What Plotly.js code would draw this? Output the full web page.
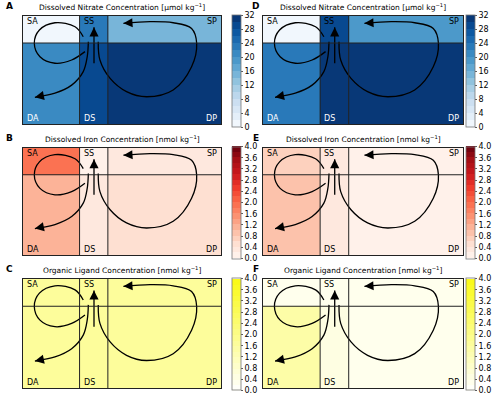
<!DOCTYPE html>
<html>
<head>
<meta charset="utf-8">
<script src="https://cdn.plot.ly/plotly-3.0.1.min.js"></script>
<style>html,body{margin:0;padding:0;background:#fff;}#chart{width:503px;height:398px;}</style>
</head>
<body>
<div id="chart"></div>
<script>
// ---- Box-model geometry (model units): columns A | S | P, rows Deep | Surface
const cellXEdges = [0, 2, 3, 7];
const cellYEdges = [0, 3, 4];
const surfaceLabels = ['SA', 'SS', 'SP'];
const deepLabels = ['DA', 'DS', 'DP'];
const panelLetters = ['A', 'B', 'C', 'D', 'E', 'F'];

// ---- Concentrations [deep row], [surface row] ordered A, S, P
const nitrateA_deep = [20, 29, 31];
const nitrateA_surf = [0.5, 22, 15];
const ironB_deep = [1.0, 0.3, 0.4];
const ironB_surf = [1.9, 0.15, 0.2];
const ligandC_deep = [1.7, 1.7, 1.7];
const ligandC_surf = [1.7, 1.7, 1.7];
const nitrateD_deep = [22, 30, 31];
const nitrateD_surf = [0.5, 28, 19];
const ironE_deep = [0.8, 0.3, 0.15];
const ironE_surf = [0.7, 0.2, 0.1];
const ligandF_deep = [1.4, 0.4, 0.2];
const ligandF_surf = [0.3, 0.3, 0.2];

// colourbar ticks
const nitrateTicks = [0, 4, 8, 12, 16, 20, 24, 28, 32];
const ironTicks = [0, 0.4, 0.8, 1.2, 1.6, 2.0, 2.4, 2.8, 3.2, 3.6, 4.0];

// ---- Circulation pathways (model units)
const loopSA_x = [2.13, 1.84, 1.13, 0.58, 0.40, 0.60, 1.13, 1.72, 2.19];
const loopSA_y = [3.23, 3.60, 3.75, 3.48, 2.99, 2.49, 2.25, 2.37, 2.68];
const toDA_x = [2.31, 2.27, 2.13, 1.72, 1.13, 0.42];
const toDA_y = [3.05, 2.49, 1.94, 1.44, 1.14, 0.99];
const upwell_x = [2.51, 2.51];
const upwell_y = [2.25, 3.58];
const loopP_x = [2.66, 2.72, 3.08, 3.66, 4.37, 5.31, 5.96, 6.14, 5.96, 5.31, 4.49, 3.55];
const loopP_y = [3.05, 2.37, 1.69, 1.20, 1.01, 1.26, 2.12, 2.99, 3.54, 3.75, 3.79, 3.73];

// ---- colormaps
const bluesStops = [[247,251,255],[222,235,247],[198,219,239],[158,202,225],[107,174,214],[66,146,198],[33,113,181],[8,81,156],[8,48,107]];
const redsStops = [[255,245,240],[254,224,210],[252,187,161],[252,146,114],[251,106,74],[239,59,44],[203,24,29],[165,15,21],[103,0,13]];
const yellowStops = [[255,255,255],[250,250,20]];

function sample(stops, t) {
  const n = stops.length - 1;
  const p = Math.min(Math.max(t, 0), 1) * n;
  const i = Math.min(Math.floor(p), n - 1);
  const f = p - i;
  const c = stops[i].map((v, k) => Math.round(v + (stops[i + 1][k] - v) * f));
  return 'rgb(' + c.join(',') + ')';
}
function stepped(stops, nBands) {
  const cs = [];
  for (let b = 0; b < nBands; b++) {
    const col = sample(stops, (b + 0.5) / nBands);
    cs.push([b / nBands, col]);
    cs.push([(b + 1) / nBands, col]);
  }
  return cs;
}

const W = 503, H = 398;
const colPx = [[23, 221], [263, 463]];
const rowPx = [[16, 124], [148, 255], [279, 388]];
const cbarLeftPx = [232, 466];

const panels = [
  {deep: nitrateA_deep, surf: nitrateA_surf, col: 0, row: 0, kind: 'n'},
  {deep: ironB_deep, surf: ironB_surf, col: 0, row: 1, kind: 'fe'},
  {deep: ligandC_deep, surf: ligandC_surf, col: 0, row: 2, kind: 'l'},
  {deep: nitrateD_deep, surf: nitrateD_surf, col: 1, row: 0, kind: 'n'},
  {deep: ironE_deep, surf: ironE_surf, col: 1, row: 1, kind: 'fe'},
  {deep: ligandF_deep, surf: ligandF_surf, col: 1, row: 2, kind: 'l'}
];
const kinds = {
  n: {title: 'Dissolved Nitrate Concentration [μmol kg<sup>−1</sup>]', cs: stepped(bluesStops, 16), zmax: 32, ticks: nitrateTicks, fmt: 'd', deepTxt: '#ffffff'},
  fe: {title: 'Dissolved Iron Concentration [nmol kg<sup>−1</sup>]', cs: stepped(redsStops, 20), zmax: 4, ticks: ironTicks, fmt: '.1f', deepTxt: '#000000'},
  l: {title: 'Organic Ligand Concentration [nmol kg<sup>−1</sup>]', cs: stepped(yellowStops, 20), zmax: 4, ticks: ironTicks, fmt: '.1f', deepTxt: '#000000'}
};

const FONT = 'DejaVu Sans, sans-serif';
const data = [];
const layout = {
  width: W, height: H, margin: {l: 0, r: 0, t: 0, b: 0},
  paper_bgcolor: '#fff', plot_bgcolor: '#fff', showlegend: false,
  annotations: [], shapes: [], font: {family: FONT, color: '#000'}
};

panels.forEach((p, i) => {
  const k = kinds[p.kind];
  const sfx = i === 0 ? '' : String(i + 1);
  const xa = 'x' + sfx, ya = 'y' + sfx;
  const [x0, x1] = colPx[p.col];
  const [y0, y1] = rowPx[p.row];
  layout['xaxis' + sfx] = {domain: [x0 / W, x1 / W], range: [0, 7], anchor: ya, showgrid: false, zeroline: false,
    showticklabels: false, ticks: '', showline: true, mirror: true, linecolor: '#222', linewidth: 1, fixedrange: true};
  layout['yaxis' + sfx] = {domain: [1 - y1 / H, 1 - y0 / H], range: [0, 4], anchor: xa, showgrid: false, zeroline: false,
    showticklabels: false, ticks: '', showline: true, mirror: true, linecolor: '#222', linewidth: 1, fixedrange: true};

  const cbMid = (y0 + y1) / 2 + 1;
  data.push({
    type: 'heatmap', x: cellXEdges, y: cellYEdges, z: [p.deep, p.surf], xaxis: xa, yaxis: ya,
    zmin: 0, zmax: k.zmax, colorscale: k.cs, zsmooth: false, hoverinfo: 'skip',
    colorbar: {x: cbarLeftPx[p.col] / W, xanchor: 'left', y: 1 - cbMid / H, yanchor: 'middle',
      len: 112, lenmode: 'pixels', thickness: 9, thicknessmode: 'pixels', xpad: 0, ypad: 0,
      outlinewidth: 0.8, outlinecolor: '#777', ticks: 'outside', ticklen: 2, tickwidth: 0.8, tickcolor: '#333',
      tickmode: 'array', tickvals: k.ticks, ticktext: k.ticks.map(v => k.fmt === 'd' ? String(v) : v.toFixed(1)),
      tickfont: {size: 8, family: FONT, color: '#000'}}
  });

  // inner cell boundaries
  layout.shapes.push({type: 'line', xref: xa, yref: ya, x0: 0, x1: 7, y0: cellYEdges[1], y1: cellYEdges[1], line: {color: '#222', width: 1}});
  layout.shapes.push({type: 'line', xref: xa, yref: ya, x0: cellXEdges[1], x1: cellXEdges[1], y0: 0, y1: 4, line: {color: '#222', width: 1}});
  layout.shapes.push({type: 'line', xref: xa, yref: ya, x0: cellXEdges[2], x1: cellXEdges[2], y0: 0, y1: 4, line: {color: '#222', width: 1}});

  // pathways
  [[loopSA_x, loopSA_y], [toDA_x, toDA_y], [upwell_x, upwell_y], [loopP_x, loopP_y]].forEach(([px, py]) => {
    data.push({type: 'scatter', mode: 'lines', x: px, y: py, xaxis: xa, yaxis: ya, hoverinfo: 'skip',
      line: {color: '#000', width: 1.3, shape: 'spline', smoothing: 1}});
    const n = px.length;
    const ax = px[n - 1] - (px[n - 1] - px[n - 2]) * 0.25;
    const ay = py[n - 1] - (py[n - 1] - py[n - 2]) * 0.25;
    layout.annotations.push({xref: xa, yref: ya, axref: xa, ayref: ya, x: px[n - 1], y: py[n - 1], ax: ax, ay: ay,
      text: '', showarrow: true, arrowhead: 2, arrowsize: 1.4, arrowwidth: 1.3, arrowcolor: '#000', standoff: 0});
  });

  // cell labels
  const lblFont = {size: 8, family: FONT, color: '#000'};
  const xs = [cellXEdges[0], cellXEdges[1], cellXEdges[3]];
  const anch = ['left', 'left', 'right'];
  const xsh = [2, 2, -2];
  for (let c = 0; c < 3; c++) {
    layout.annotations.push({xref: xa, yref: ya, x: xs[c], y: 4, text: surfaceLabels[c], showarrow: false,
      xanchor: anch[c], yanchor: 'top', xshift: xsh[c], yshift: 1, font: lblFont});
    layout.annotations.push({xref: xa, yref: ya, x: xs[c], y: 0, text: deepLabels[c], showarrow: false,
      xanchor: anch[c], yanchor: 'bottom', xshift: xsh[c], yshift: -1, font: Object.assign({}, lblFont, {color: k.deepTxt})});
  }

  // panel title and letter
  layout.annotations.push({xref: 'paper', yref: 'paper', x: (x0 + x1) / 2 / W, y: 1 - (y0 - 9) / H, text: k.title,
    showarrow: false, xanchor: 'center', yanchor: 'middle', font: {size: 7.5, family: FONT, color: '#000'}});
  layout.annotations.push({xref: 'paper', yref: 'paper', x: (p.col === 0 ? 9 : 256) / W, y: 1 - (y0 - 10) / H,
    text: '<b>' + panelLetters[i] + '</b>', showarrow: false, xanchor: 'center', yanchor: 'middle',
    font: {size: 9, family: FONT, color: '#000'}});
});

Plotly.newPlot('chart', data, layout, {staticPlot: true, displayModeBar: false});
</script>
</body>
</html>
